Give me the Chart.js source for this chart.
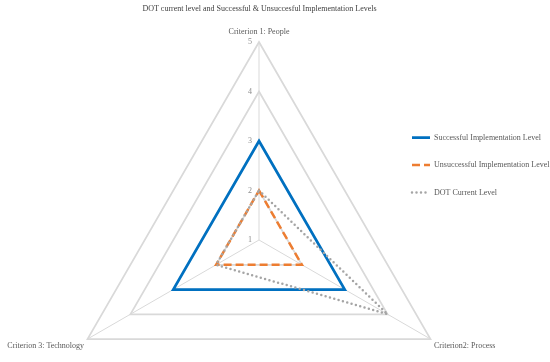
<!DOCTYPE html>
<html>
<head>
<meta charset="utf-8">
<script src="https://cdn.jsdelivr.net/npm/chart.js@4.4.1/dist/chart.umd.min.js"></script>
<style>
  html, body { margin: 0; padding: 0; background: #ffffff; }
  canvas { display: block; }
</style>
</head>
<body>
<canvas id="myChart" width="550" height="362"></canvas>
<script>
const criteria = ["Criterion 1: People", "Criterion2: Process", "Criterion 3: Technology"];
const successfulLevel = [3, 3, 3];
const unsuccessfulLevel = [2, 2, 2];
const dotCurrentLevel = [2, 4, 2];
const levelTicks = [1, 2, 3, 4, 5];

const FONT = "'Liberation Serif', 'Times New Roman', serif";
// where the radar sits in the picture (Excel puts it left of centre)
const RADAR = { x: 259, y: 240, r: 198 };

const ctx = document.getElementById("myChart").getContext("2d");
new Chart(ctx, {
  type: "radar",
  data: {
    labels: criteria,
    datasets: [
      {
        label: "Successful Implementation Level",
        data: successfulLevel,
        borderColor: "#0070c0",
        borderWidth: 2.75,
        order: 3
      },
      {
        label: "Unsuccessful Implementation Level",
        data: unsuccessfulLevel,
        borderColor: "#ed7d31",
        borderWidth: 2.5,
        borderDash: [8, 4],
        order: 2
      },
      {
        label: "DOT Current Level",
        data: dotCurrentLevel,
        borderColor: "#a5a5a5",
        borderWidth: 2.5,
        borderDash: [0, 4.5],
        borderCapStyle: "round",
        order: 1
      }
    ]
  },
  options: {
    responsive: false,
    animation: false,
    devicePixelRatio: 1,
    // negative left padding moves the centred title a little to the left
    layout: { padding: { left: -31, bottom: 32 } },
    elements: {
      line: { fill: false, tension: 0, backgroundColor: "transparent" },
      point: { radius: 0, hoverRadius: 0 }
    },
    plugins: {
      title: {
        display: true,
        text: "DOT current level and Successful & Unsuccesful Implementation Levels",
        color: "#404040",
        font: { family: FONT, size: 8, weight: "normal" },
        padding: { top: 4, bottom: 6 }
      },
      tooltip: { enabled: false },
      legend: {
        position: "right",
        maxWidth: 157.5,
        labels: {
          usePointStyle: true,
          pointStyleWidth: 18,
          padding: 19.5,
          color: "#595959",
          font: { family: FONT, size: 8 },
          generateLabels: (chart) =>
            chart.data.datasets.map((ds, i) => ({
              text: ds.label,
              datasetIndex: i,
              hidden: false,
              fillStyle: ds.borderColor,
              strokeStyle: ds.borderColor,
              lineWidth: ds.borderWidth,
              lineDash: ds.borderDash || [],
              lineCap: ds.borderCapStyle || "butt",
              pointStyle: "line",
              fontColor: "#595959"
            }))
        }
      }
    },
    scales: {
      r: {
        min: levelTicks[0],
        max: levelTicks[levelTicks.length - 1],
        ticks: {
          stepSize: 1,
          showLabelBackdrop: false,
          color: "#8c8c8c",
          font: { family: FONT, size: 8 },
          // trailing spaces push the number left of the spoke
          callback: (value) => String(value).padEnd(10, " ")
        },
        grid: { color: "#d9d9d9", lineWidth: 1.75 },
        angleLines: { color: "#d9d9d9", lineWidth: 1 },
        pointLabels: {
          color: "#595959",
          font: { family: FONT, size: 8 },
          padding: (c) => (c.index === 0 ? -0.5 : -2)
        },
        // Chart.js skips the label of the first tick, so add a copy of it
        afterBuildTicks: (scale) => {
          scale.ticks.unshift({ value: scale.min });
        },
        beforeFit: (scale) => {
          scale.left = 0;
          scale.top = 0;
          scale.right = scale.chart.width;
          scale.bottom = scale.chart.height;
          scale._padding = { left: 0, right: 0, top: 0, bottom: 0, width: 0, height: 0 };
          scale.xCenter = RADAR.x;
          scale.yCenter = RADAR.y;
          scale.drawingArea = RADAR.r;
        }
      }
    }
  }
});
</script>
</body>
</html>
